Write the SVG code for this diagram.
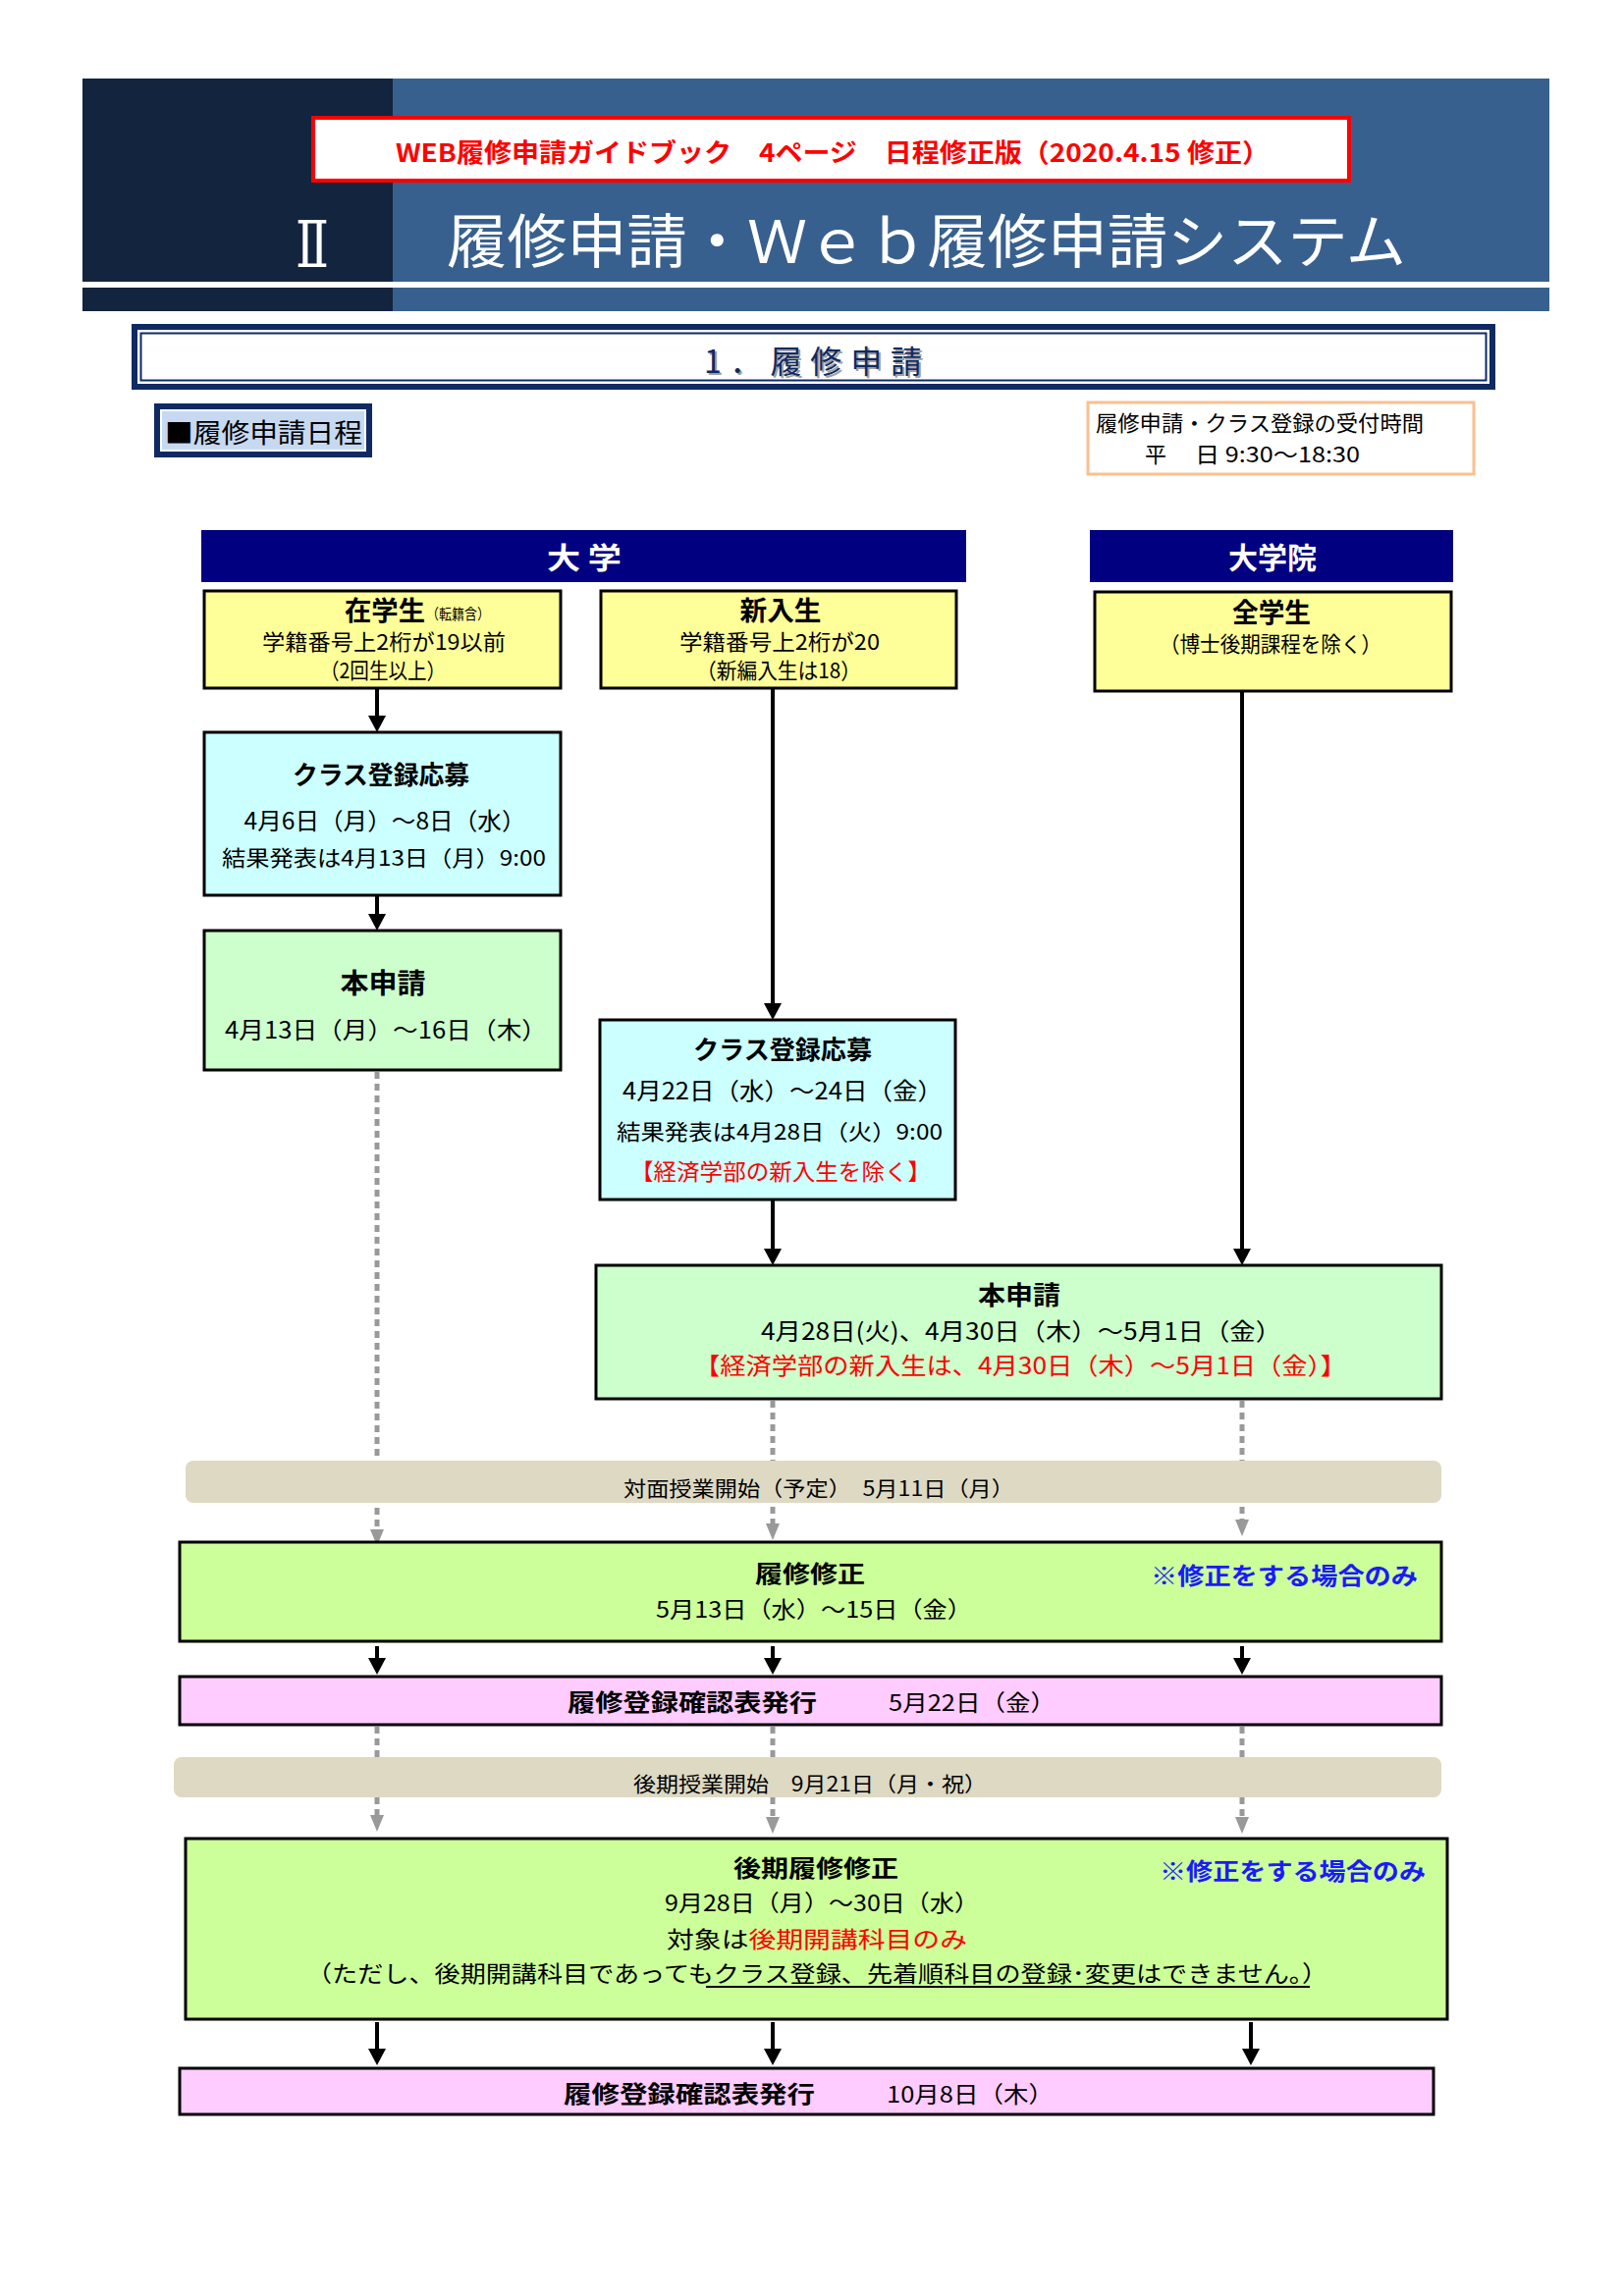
<svg xmlns="http://www.w3.org/2000/svg" width="1654" height="2339" viewBox="0 0 1654 2339">
<style>
text{font-family:"Noto Sans CJK JP","Noto Sans CJK SC",sans-serif;fill:#000;}
.b{font-weight:bold;}
.box{stroke:#000;stroke-width:3;}
.solid{stroke:#000;stroke-width:4;fill:none;marker-end:url(#ah);}
.dash{stroke:#999;stroke-width:5;stroke-dasharray:7 5;fill:none;marker-end:url(#ag);}
.red{fill:#FF0000;}
.blue{fill:#1A1AFF;}
.c{text-anchor:middle;}
</style>
<defs>
<marker id="ah" markerUnits="userSpaceOnUse" viewBox="0 0 17 18" markerWidth="17" markerHeight="18" refX="7" refY="9" orient="auto"><path d="M0,0 L17,9 L0,18 z" fill="#000"/></marker>
<marker id="ag" markerUnits="userSpaceOnUse" viewBox="0 0 17 14" markerWidth="17" markerHeight="14" refX="7" refY="7" orient="auto"><path d="M0,0 L17,7 L0,14 z" fill="#999"/></marker>
</defs>
<rect width="1654" height="2339" fill="#fff"/>

<g id="header">
<rect x="84" y="80" width="1494" height="207" fill="#38608F"/>
<rect x="84" y="80" width="316" height="207" fill="#13243F"/>
<rect x="84" y="293" width="1494" height="24" fill="#38608F"/>
<rect x="84" y="293" width="316" height="24" fill="#13243F"/>
<rect x="319" y="120" width="1055" height="64" fill="#fff" stroke="#FF0000" stroke-width="4"/>
<text x="848" y="165" class="b red c" font-size="26" textLength="890" lengthAdjust="spacingAndGlyphs">WEB履修申請ガイドブック　4ページ　日程修正版（2020.4.15 修正）</text>
<text x="301" y="272" font-size="66" style="fill:#fff;font-family:'DejaVu Serif',serif" textLength="34" lengthAdjust="spacingAndGlyphs">Ⅱ</text>
<text x="455" y="268" font-size="60" style="fill:#fff" textLength="977" lengthAdjust="spacingAndGlyphs">履修申請・Ｗｅｂ履修申請システム</text>
</g>

<g id="section-title">
<rect x="137" y="333" width="1383" height="61" fill="#fff" stroke="#0F2A63" stroke-width="6"/>
<rect x="143.5" y="339.5" width="1370" height="48" fill="none" stroke="#0F2A63" stroke-width="2"/>
<text x="719" y="382" font-size="32" style="fill:#A0A0A0" textLength="222" lengthAdjust="spacing">1．履修申請</text>
<text x="717" y="380" font-size="32" style="fill:#0F2A63" textLength="222" lengthAdjust="spacing">1．履修申請</text>
</g>

<g id="schedule-label">
<rect x="157" y="411" width="222" height="55" fill="#0F2A63"/>
<rect x="163" y="417" width="210" height="43" fill="#fff"/>
<rect x="165" y="419" width="206" height="39" fill="#C6D9F1"/>
<text x="168" y="451" font-size="27" textLength="201" lengthAdjust="spacingAndGlyphs">■履修申請日程</text>
</g>

<g id="hours">
<rect x="1108" y="410" width="393" height="73" fill="#fff" stroke="#FAC090" stroke-width="3"/>
<text x="1116" y="439" font-size="22" textLength="334" lengthAdjust="spacingAndGlyphs">履修申請・クラス登録の受付時間</text>
<text x="1166" y="471" font-size="22">平</text>
<text x="1217" y="471" font-size="22" textLength="168" lengthAdjust="spacingAndGlyphs">日 9:30～18:30</text>
</g>

<g id="connectors">
<line class="solid" x1="384" y1="701" x2="384" y2="736"/>
<line class="solid" x1="384" y1="912" x2="384" y2="938"/>
<line class="dash" x1="384" y1="1092" x2="384" y2="1565"/>
<line class="solid" x1="787" y1="701" x2="787" y2="1029"/>
<line class="solid" x1="787" y1="1222" x2="787" y2="1279"/>
<line class="solid" x1="1265" y1="704" x2="1265" y2="1279"/>
<line class="dash" x1="787" y1="1427" x2="787" y2="1559"/>
<line class="dash" x1="1265" y1="1427" x2="1265" y2="1555"/>
<line class="solid" x1="384" y1="1677" x2="384" y2="1696"/>
<line class="solid" x1="787" y1="1677" x2="787" y2="1696"/>
<line class="solid" x1="1265" y1="1677" x2="1265" y2="1696"/>
<line class="dash" x1="384" y1="1759" x2="384" y2="1856"/>
<line class="dash" x1="787" y1="1759" x2="787" y2="1858"/>
<line class="dash" x1="1265" y1="1759" x2="1265" y2="1858"/>
<line class="solid" x1="384" y1="2060" x2="384" y2="2094"/>
<line class="solid" x1="787" y1="2060" x2="787" y2="2094"/>
<line class="solid" x1="1274" y1="2060" x2="1274" y2="2094"/>
</g>

<g id="daigaku">
<rect x="205" y="540" width="779" height="53" fill="#000080"/>
<text x="595" y="579" class="b c" font-size="30" style="fill:#fff" textLength="76" lengthAdjust="spacingAndGlyphs">大 学</text>
</g>
<g id="daigakuin">
<rect x="1110" y="540" width="370" height="53" fill="#000080"/>
<text x="1296" y="579" class="b c" font-size="30" style="fill:#fff">大学院</text>
</g>

<g id="zaigakusei">
<rect class="box" x="208" y="602" width="363" height="99" fill="#FFFF99"/>
<text x="351" y="632" class="b" font-size="27" textLength="82" lengthAdjust="spacingAndGlyphs">在学生</text>
<text x="434" y="631" font-size="15" textLength="65" lengthAdjust="spacingAndGlyphs">（転籍含）</text>
<text x="391" y="662" class="c" font-size="22" textLength="248" lengthAdjust="spacingAndGlyphs">学籍番号上2桁が19以前</text>
<text x="390" y="691" class="c" font-size="22" textLength="128" lengthAdjust="spacingAndGlyphs">（2回生以上）</text>
</g>

<g id="shinnyusei">
<rect class="box" x="612" y="602" width="362" height="99" fill="#FFFF99"/>
<text x="795" y="632" class="b c" font-size="27" textLength="83" lengthAdjust="spacingAndGlyphs">新入生</text>
<text x="794" y="662" class="c" font-size="22" textLength="204" lengthAdjust="spacingAndGlyphs">学籍番号上2桁が20</text>
<text x="793" y="691" class="c" font-size="22" textLength="168" lengthAdjust="spacingAndGlyphs">（新編入生は18）</text>
</g>

<g id="zengakusei">
<rect class="box" x="1115" y="603" width="363" height="101" fill="#FFFF99"/>
<text x="1295" y="634" class="b c" font-size="27" textLength="80" lengthAdjust="spacingAndGlyphs">全学生</text>
<text x="1294" y="664" class="c" font-size="22" textLength="226" lengthAdjust="spacingAndGlyphs">（博士後期課程を除く）</text>
</g>

<g id="class1">
<rect class="box" x="208" y="746" width="363" height="166" fill="#CCFFFF"/>
<text x="388" y="799" class="b c" font-size="26" textLength="180" lengthAdjust="spacingAndGlyphs">クラス登録応募</text>
<text x="392" y="845" class="c" font-size="24" textLength="287" lengthAdjust="spacingAndGlyphs">4月6日（月）～8日（水）</text>
<text x="391" y="882" class="c" font-size="22" textLength="330" lengthAdjust="spacingAndGlyphs">結果発表は4月13日（月）9:00</text>
</g>

<g id="honshinsei1">
<rect class="box" x="208" y="948" width="363" height="142" fill="#CCFFCC"/>
<text x="390" y="1012" class="b c" font-size="28" textLength="87" lengthAdjust="spacingAndGlyphs">本申請</text>
<text x="393" y="1058" class="c" font-size="24" textLength="328" lengthAdjust="spacingAndGlyphs">4月13日（月）～16日（木）</text>
</g>

<g id="class2">
<rect class="box" x="611" y="1039" width="362" height="183" fill="#CCFFFF"/>
<text x="797" y="1079" class="b c" font-size="26" textLength="182" lengthAdjust="spacingAndGlyphs">クラス登録応募</text>
<text x="797" y="1120" class="c" font-size="24" textLength="326" lengthAdjust="spacingAndGlyphs">4月22日（水）～24日（金）</text>
<text x="794" y="1161" class="c" font-size="22" textLength="332" lengthAdjust="spacingAndGlyphs">結果発表は4月28日（火）9:00</text>
<text x="795" y="1202" class="c red" font-size="23" textLength="306" lengthAdjust="spacingAndGlyphs">【経済学部の新入生を除く】</text>
</g>

<g id="honshinsei2">
<rect class="box" x="607" y="1289" width="861" height="136" fill="#CCFFCC"/>
<text x="1038" y="1329" class="b c" font-size="26" textLength="84" lengthAdjust="spacingAndGlyphs">本申請</text>
<text x="1040" y="1365" class="c" font-size="24" textLength="530" lengthAdjust="spacingAndGlyphs">4月28日(火)、4月30日（木）～5月1日（金）</text>
<text x="1039" y="1400" class="c red" font-size="24" textLength="664" lengthAdjust="spacingAndGlyphs">【経済学部の新入生は、4月30日（木）～5月1日（金）】</text>
</g>

<g id="taimen">
<rect x="189" y="1488" width="1279" height="43" rx="8" fill="#DDD9C3"/>
<text x="834" y="1524" class="c" font-size="21" textLength="398" lengthAdjust="spacingAndGlyphs">対面授業開始（予定）　5月11日（月）</text>
</g>

<g id="rishu-shusei">
<rect class="box" x="183" y="1571" width="1285" height="101" fill="#CCFF99"/>
<text x="825" y="1612" class="b c" font-size="24" textLength="112" lengthAdjust="spacingAndGlyphs">履修修正</text>
<text x="829" y="1648" class="c" font-size="23" textLength="322" lengthAdjust="spacingAndGlyphs">5月13日（水）～15日（金）</text>
<text x="1172" y="1614" class="b blue" font-size="24" textLength="272" lengthAdjust="spacingAndGlyphs">※修正をする場合のみ</text>
</g>

<g id="kakunin1">
<rect class="box" x="183" y="1708" width="1285" height="49" fill="#FFCCFF"/>
<text x="578" y="1743" class="b" font-size="24" textLength="254" lengthAdjust="spacingAndGlyphs">履修登録確認表発行</text>
<text x="905" y="1743" font-size="23" textLength="170" lengthAdjust="spacingAndGlyphs">5月22日（金）</text>
</g>

<g id="kouki-kaishi">
<rect x="177" y="1790" width="1291" height="41" rx="8" fill="#DDD9C3"/>
<text x="645" y="1825" font-size="21" textLength="360" lengthAdjust="spacingAndGlyphs">後期授業開始　9月21日（月・祝）</text>
</g>

<g id="kouki-shusei">
<rect class="box" x="189" y="1873" width="1285" height="184" fill="#CCFF99"/>
<text x="831" y="1912" class="b c" font-size="24" textLength="168" lengthAdjust="spacingAndGlyphs">後期履修修正</text>
<text x="837" y="1947" class="c" font-size="23" textLength="320" lengthAdjust="spacingAndGlyphs">9月28日（月）～30日（水）</text>
<text x="679" y="1984" font-size="23" textLength="306" lengthAdjust="spacingAndGlyphs">対象は<tspan class="red">後期開講科目のみ</tspan></text>
<text x="312" y="2019" font-size="23" textLength="1040" lengthAdjust="spacingAndGlyphs">（ただし、後期開講科目であってもクラス登録、先着順科目の登録･変更はできません。）</text>
<line x1="719" y1="2024" x2="1334" y2="2024" stroke="#000" stroke-width="2"/>
<text x="1181" y="1915" class="b blue" font-size="24" textLength="271" lengthAdjust="spacingAndGlyphs">※修正をする場合のみ</text>
</g>

<g id="kakunin2">
<rect class="box" x="183" y="2107" width="1277" height="47" fill="#FFCCFF"/>
<text x="574" y="2142" class="b" font-size="24" textLength="256" lengthAdjust="spacingAndGlyphs">履修登録確認表発行</text>
<text x="903" y="2142" font-size="23" textLength="170" lengthAdjust="spacingAndGlyphs">10月8日（木）</text>
</g>
</svg>
